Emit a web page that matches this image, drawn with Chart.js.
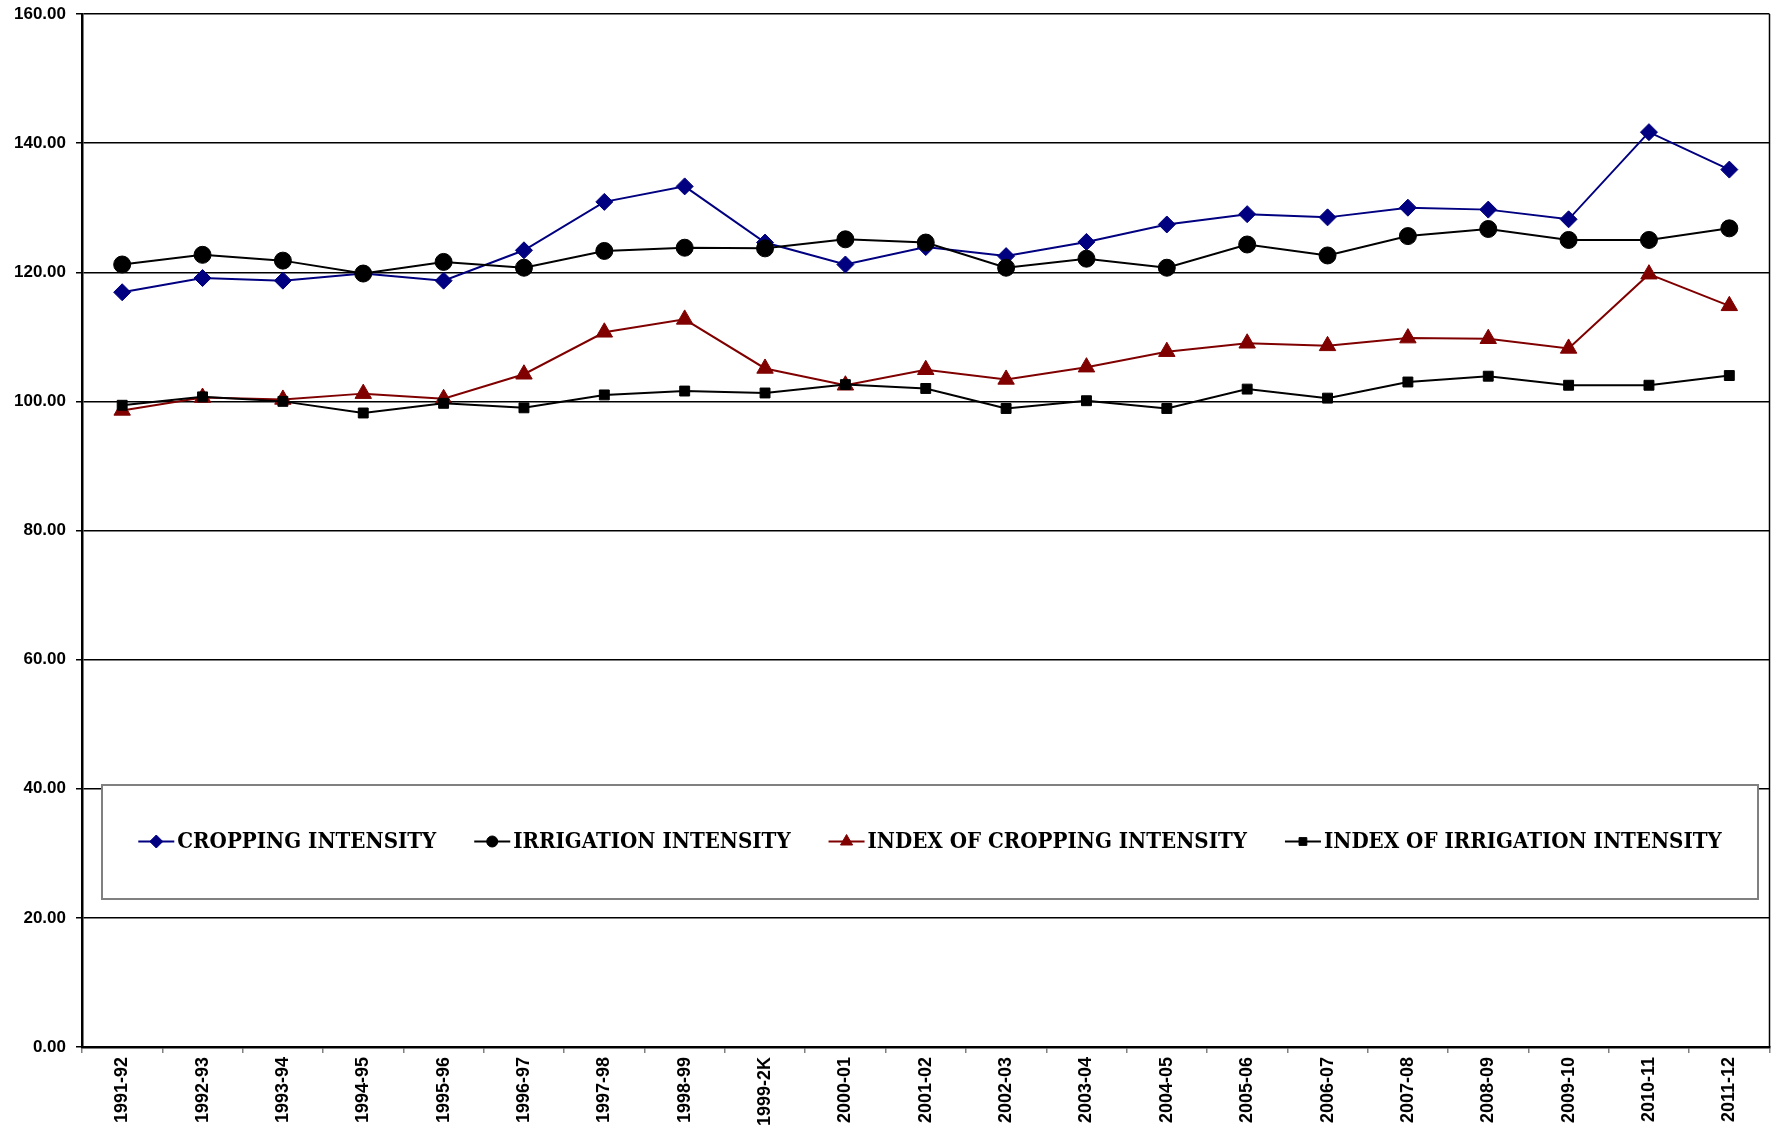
<!DOCTYPE html>
<html><head><meta charset="utf-8">
<script src="https://cdn.jsdelivr.net/npm/chart.js@4.4.0/dist/chart.umd.min.js"></script>
<style>html,body{margin:0;padding:0;background:#fff;}#wrap{width:1780px;height:1129px;}</style>
</head><body><div id="wrap"><canvas id="c" width="1780" height="1129"></canvas></div>
<script>
const categories = ["1991-92","1992-93","1993-94","1994-95","1995-96","1996-97","1997-98","1998-99","1999-2K","2000-01","2001-02","2002-03","2003-04","2004-05","2005-06","2006-07","2007-08","2008-09","2009-10","2010-11","2011-12"];
const croppingIntensity = [116.9,119.1,118.7,119.8,118.7,123.4,130.9,133.3,124.6,121.2,123.9,122.5,124.7,127.4,129.0,128.5,130.0,129.7,128.2,141.7,135.9];
const irrigationIntensity = [121.2,122.7,121.8,119.8,121.6,120.7,123.3,123.8,123.7,125.1,124.6,120.7,122.1,120.7,124.3,122.6,125.6,126.7,125.0,125.0,126.8];
const indexCroppingIntensity = [98.6,100.6,100.3,101.2,100.4,104.2,110.7,112.7,105.1,102.5,104.9,103.4,105.3,107.7,109.0,108.6,109.8,109.7,108.2,119.7,114.8];
const indexIrrigationIntensity = [99.4,100.7,100.0,98.2,99.7,99.0,101.0,101.6,101.3,102.6,102.0,98.9,100.1,98.9,101.9,100.5,103.0,103.9,102.5,102.5,104.0];
const seriesNames = ["CROPPING INTENSITY","IRRIGATION INTENSITY","INDEX OF CROPPING INTENSITY","INDEX OF IRRIGATION INTENSITY"];
const yMin = 0, yMax = 160, yStep = 20;

const legendMarkerRadius = {rectRot:6.5, circle:5.5, triangle:7, rect:5.5};

function pickLegendFont(ctx) {
  const sample = seriesNames[3];
  ctx.font = 'bold 20px "DejaVu Serif"';
  const wReg = ctx.measureText(sample).width;
  ctx.font = 'bold 20px "DejaVu Serif Condensed", "DejaVu Serif"';
  const wCond = ctx.measureText(sample).width;
  const target = 398;
  if (wCond < wReg * 0.97) {
    const size = 20 * target / wCond;
    return 'bold ' + size.toFixed(2) + 'px "DejaVu Serif Condensed", "DejaVu Serif"';
  }
  const size = Math.min(20 * target / wReg, 21);
  return 'bold ' + size.toFixed(2) + 'px "DejaVu Serif"';
}

const frameAndLegend = {
  id: 'frameAndLegend',
  afterDatasetsDraw(chart) {
    const ctx = chart.ctx, a = chart.chartArea;
    ctx.save();
    ctx.strokeStyle = '#000'; ctx.lineWidth = 1.5;
    ctx.beginPath(); ctx.moveTo(a.right, a.top); ctx.lineTo(a.right, a.bottom); ctx.stroke();
    const bx = 102, by = 785, bw = 1656, bh = 114;
    ctx.fillStyle = '#fff'; ctx.fillRect(bx, by, bw, bh);
    ctx.strokeStyle = '#808080'; ctx.lineWidth = 2;
    ctx.strokeRect(bx, by, bw, bh);
    ctx.font = pickLegendFont(ctx);
    ctx.textBaseline = 'middle'; ctx.textAlign = 'left';
    const lineW = 36, gapT = 3, gapItem = 38;
    const ds = chart.data.datasets;
    const widths = ds.map(d => ctx.measureText(d.label).width);
    let total = widths.reduce((s, w) => s + lineW + gapT + w, 0) + gapItem * (ds.length - 1);
    let x = bx + bw / 2 - total / 2;
    const cy = by + bh / 2 - 0.5;
    ds.forEach((d, i) => {
      ctx.strokeStyle = d.borderColor; ctx.lineWidth = 2;
      ctx.beginPath(); ctx.moveTo(x, cy); ctx.lineTo(x + lineW, cy); ctx.stroke();
      ctx.fillStyle = d.pointBackgroundColor; ctx.strokeStyle = d.pointBorderColor; ctx.lineWidth = 1;
      Chart.helpers.drawPoint(ctx, {pointStyle: d.pointStyle, radius: legendMarkerRadius[d.pointStyle], rotation: 0, borderWidth: 1}, x + lineW / 2, cy);
      ctx.fillStyle = '#000';
      ctx.fillText(d.label, x + lineW + gapT, cy + 1);
      x += lineW + gapT + widths[i] + gapItem;
    });
    ctx.restore();
  }
};

function mk(label, data, color, style, radius, order) {
  return {label, data, borderColor: color, backgroundColor: color, borderWidth: 2,
    pointStyle: style, pointRadius: radius, pointHoverRadius: radius,
    pointBackgroundColor: color, pointBorderColor: color, pointBorderWidth: 1,
    tension: 0, fill: false, order};
}

new Chart(document.getElementById('c'), {
  type: 'line',
  data: {
    labels: categories,
    datasets: [
      mk(seriesNames[0], croppingIntensity, '#000080', 'rectRot', 8.5, 3),
      mk(seriesNames[1], irrigationIntensity, '#000000', 'circle', 8.5, 2),
      mk(seriesNames[2], indexCroppingIntensity, '#800000', 'triangle', 9.5, 1),
      mk(seriesNames[3], indexIrrigationIntensity, '#000000', 'rect', 7, 0)
    ]
  },
  options: {
    responsive: false, animation: false, devicePixelRatio: 1,
    layout: {padding: {top: 14, right: 4, bottom: 0, left: 0}},
    plugins: {legend: {display: false}, tooltip: {enabled: false}},
    scales: {
      x: {
        offset: true,
        grid: {offset: true, drawOnChartArea: false, drawTicks: true, tickLength: 6, color: '#808080', lineWidth: 1.5},
        border: {color: '#000', width: 2.5},
        ticks: {autoSkip: false, maxRotation: 90, minRotation: 90, padding: 4, color: '#000',
          font: {family: '"Liberation Sans", Arial, sans-serif', weight: 'bold', size: 18}},
        afterFit(s) { s.height = 82; s.paddingLeft = 0; s.paddingRight = 0; }
      },
      y: {
        min: yMin, max: yMax,
        grid: {color: '#000', lineWidth: 1.5, tickLength: 6},
        border: {color: '#000', width: 2.5},
        ticks: {stepSize: yStep, padding: 10, color: '#000',
          font: {family: '"Liberation Sans", Arial, sans-serif', weight: 'bold', size: 17},
          callback: v => Number(v).toFixed(2)},
        afterFit(s) { s.width = 82; s.paddingTop = 0; s.paddingBottom = 0; }
      }
    }
  },
  plugins: [frameAndLegend]
});
</script>
</body></html>
